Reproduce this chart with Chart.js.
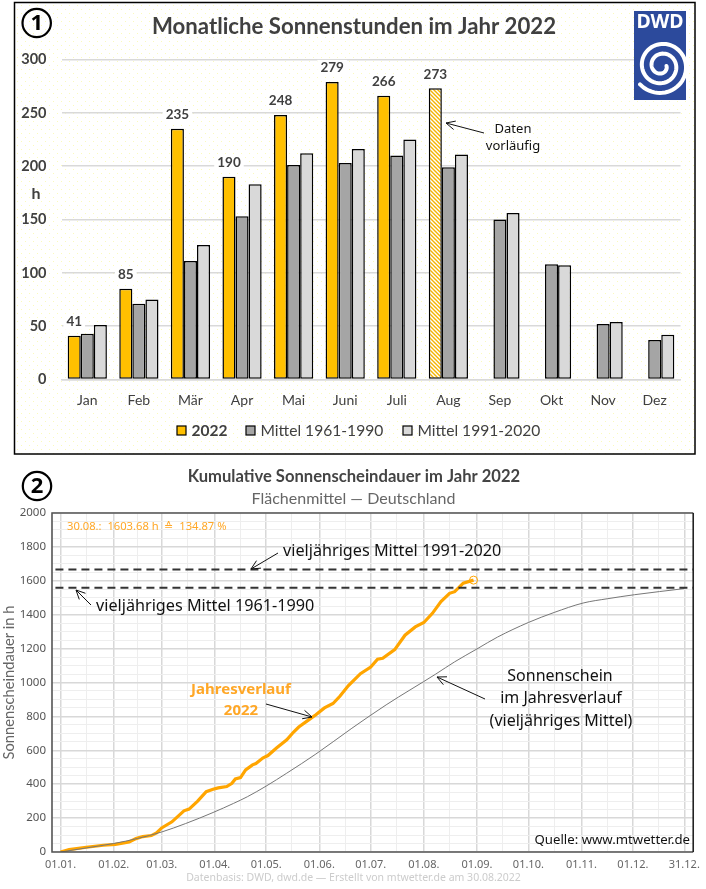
<!DOCTYPE html>
<html>
<head>
<meta charset="utf-8">
<style>
  html, body { margin: 0; padding: 0; background: #fff; }
  .box { position: absolute; left: 0; width: 706px; }
  #box1 { top: 0; height: 458px; }
  #box2 { top: 458px; height: 431px; }
</style>
<script src="https://cdn.jsdelivr.net/npm/chart.js@4"></script>
</head>
<body>
<div class="box" id="box1"><canvas id="monatlich"></canvas></div>
<div class="box" id="box2"><canvas id="kumulativ"></canvas></div>
<script>
// Monatliche Sonnenstunden
const months = ["Jan", "Feb", "Mär", "Apr", "Mai", "Juni", "Juli", "Aug", "Sep", "Okt", "Nov", "Dez"];
const hours2022 = [41, 85, 235, 190, 248, 279, 266, 273, null, null, null, null];
const labels2022 = [41, 85, 235, 190, 248, 279, 266, 273];
const mean6190 = [43, 71, 111, 153, 201, 203, 210, 199, 150, 108, 52, 37];
const mean9120 = [51, 75, 126, 183, 212, 216, 225, 211, 156, 107, 54, 42];
const barTicks = [0, 50, 100, 150, 200, 250, 300];

// Kumulative Sonnenscheindauer (Tag des Jahres, Stunden)
const monthStarts = [0, 31, 59, 90, 120, 151, 181, 212, 243, 273, 304, 334, 364];
const monthLabels = ["01.01.", "01.02.", "01.03.", "01.04.", "01.05.", "01.06.", "01.07.", "01.08.", "01.09.", "01.10.", "01.11.", "01.12.", "31.12."];
const midMonths = [15, 45, 74, 105, 135, 166, 196, 227, 258, 288, 319, 349];
const days2022 = [0, 5, 15, 25, 32, 40, 44, 48, 53, 56, 59, 65, 68, 72, 75, 80, 85, 89, 92, 97, 100, 102, 105, 108, 112, 114, 118, 121, 126, 132, 136, 139, 145, 149, 154, 159, 163, 168, 175, 181, 185, 188, 195, 201, 207, 212, 217, 222, 227, 230, 235, 241];
const sun2022 = [0, 14, 28, 40, 45, 59, 79, 91, 97, 113, 142, 178, 206, 243, 253, 300, 356, 370, 378, 386, 405, 431, 439, 484, 514, 522, 554, 569, 613, 662, 708, 737, 781, 810, 850, 876, 919, 982, 1052, 1091, 1137, 1143, 1194, 1279, 1328, 1354, 1408, 1477, 1526, 1536, 1586, 1604];
const daysMean = [0, 15, 31, 45, 59, 73, 89, 101, 109, 120, 132, 149, 170, 190, 219, 230, 243, 255, 273, 288, 305, 319, 335, 364];
const sunMean = [0, 24, 50, 80, 118, 168, 233, 287, 326, 389, 465, 578, 730, 868, 1050, 1122, 1198, 1268, 1354, 1413, 1469, 1494, 1518, 1554];
const level6190 = 1559;
const level9120 = 1666;

const uiFont = "'Noto Sans', sans-serif";
const calFont = "Lato, sans-serif";

function dotPattern() {
  const c = document.createElement("canvas");
  c.width = 8; c.height = 8;
  const g = c.getContext("2d");
  g.fillStyle = "#ffffff";
  g.fillRect(0, 0, 8, 8);
  g.fillStyle = "#fafabc";
  g.fillRect(1, 1, 1, 1);
  g.fillRect(5, 5, 1, 1);
  return c;
}

function hatchPattern() {
  const c = document.createElement("canvas");
  c.width = 4; c.height = 4;
  const g = c.getContext("2d");
  g.fillStyle = "#ffffff";
  g.fillRect(0, 0, 4, 4);
  g.strokeStyle = "#f5b400";
  g.lineWidth = 1.4;
  g.beginPath();
  g.moveTo(-1, -1); g.lineTo(5, 5);
  g.moveTo(-1, 3); g.lineTo(1, 5);
  g.moveTo(3, -1); g.lineTo(5, 1);
  g.stroke();
  return document.createElement("canvas").getContext("2d").createPattern(c, "repeat");
}

function arrow(ctx, x1, y1, x2, y2) {
  const a = Math.atan2(y2 - y1, x2 - x1);
  ctx.save();
  ctx.strokeStyle = "#111";
  ctx.lineWidth = 1;
  ctx.beginPath();
  ctx.moveTo(x1, y1);
  ctx.lineTo(x2, y2);
  ctx.moveTo(x2 - 10 * Math.cos(a - 0.45), y2 - 10 * Math.sin(a - 0.45));
  ctx.lineTo(x2, y2);
  ctx.lineTo(x2 - 10 * Math.cos(a + 0.45), y2 - 10 * Math.sin(a + 0.45));
  ctx.stroke();
  ctx.restore();
}

function label(ctx, text, x, y, font, color, align) {
  ctx.save();
  ctx.font = font;
  ctx.fillStyle = color;
  ctx.textAlign = align || "center";
  ctx.textBaseline = "middle";
  ctx.fillText(text, x, y);
  ctx.restore();
}

function numberBadge(ctx, n, x, y) {
  ctx.save();
  ctx.strokeStyle = "#000";
  ctx.lineWidth = 2.2;
  ctx.beginPath();
  ctx.arc(x, y, 14.2, 0, Math.PI * 2);
  ctx.stroke();
  ctx.restore();
  label(ctx, n, x, y + 1, "bold 22px " + uiFont, "#000");
}

function drawLogo(ctx) {
  const x = 634, y = 11, w = 52, h = 89;
  ctx.save();
  ctx.fillStyle = "#2c4a9c";
  ctx.fillRect(x, y, w, h);
  ctx.beginPath();
  ctx.rect(x, y, w, h);
  ctx.clip();
  ctx.strokeStyle = "#fff";
  ctx.lineWidth = 4;
  ctx.lineCap = "round";
  ctx.beginPath();
  for (let t = 0; t <= Math.PI * 4.8; t += 0.1) {
    const r = 5 + 1.55 * t;
    const px = 661.5 + r * Math.cos(t);
    const py = 66 + r * Math.sin(t);
    if (t === 0) ctx.moveTo(px, py); else ctx.lineTo(px, py);
  }
  ctx.stroke();
  ctx.restore();
  label(ctx, "DWD", 660, 22, "bold 19.5px " + uiFont, "#fff");
}

const panelOne = {
  id: "panelOne",
  beforeDraw(chart) {
    const { ctx, width, height } = chart;
    ctx.save();
    ctx.fillStyle = "#fff";
    ctx.fillRect(0, 0, width, height);
    ctx.fillStyle = ctx.createPattern(dotPattern(), "repeat");
    ctx.fillRect(15, 3, 680, 451);
    ctx.strokeStyle = "#000";
    ctx.lineWidth = 1.5;
    ctx.strokeRect(14.5, 2.5, 680.5, 451.5);
    ctx.restore();
  },
  afterDatasetsDraw(chart) {
    const { ctx, scales } = chart;
    const meta = chart.getDatasetMeta(0);
    label(ctx, "Monatliche Sonnenstunden im Jahr 2022", 354, 27, "bold 22.2px " + calFont, "#404040");
    // Werte ueber den Balken, weiss hinterlegt wie im Original
    labels2022.forEach((v, i) => {
      const bar = meta.data[i];
      const ly = scales.y.getPixelForValue(hours2022[i]) - 14;
      ctx.save();
      ctx.font = "bold 13.5px " + calFont;
      const w = ctx.measureText(String(v)).width + 6;
      ctx.fillStyle = "#fff";
      ctx.fillRect(bar.x - w / 2, ly - 8, w, 16);
      ctx.restore();
      label(ctx, String(v), bar.x, ly, "bold 13.5px " + calFont, "#404040");
    });
    numberBadge(ctx, "1", 36.7, 23);
    drawLogo(ctx);
    label(ctx, "h", 36, 194, "bold 16px " + calFont, "#404040");
    arrow(ctx, 484, 133, 446, 123);
    label(ctx, "Daten", 513, 129, "13px " + uiFont, "#111");
    label(ctx, "vorläufig", 513, 146, "13px " + uiFont, "#111");
    // Legende
    const legend = [
      { x: 177, color: "#ffc000", text: "2022", font: "bold 15.5px " + calFont },
      { x: 246, color: "#a5a5a5", text: "Mittel 1961-1990", font: "15.6px " + calFont },
      { x: 403, color: "#d9d9d9", text: "Mittel 1991-2020", font: "15.6px " + calFont },
    ];
    legend.forEach((e) => {
      ctx.save();
      ctx.fillStyle = e.color;
      ctx.strokeStyle = "#000";
      ctx.lineWidth = 1.2;
      ctx.fillRect(e.x, 426, 9, 9);
      ctx.strokeRect(e.x, 426, 9, 9);
      ctx.restore();
      label(ctx, e.text, e.x + 14.5, 431, e.font, "#404040", "left");
    });
  },
};

const barBorder = { borderColor: "#000", borderWidth: 1.5, borderSkipped: false, barPercentage: 1, categoryPercentage: 0.76 };

new Chart(document.getElementById("monatlich").getContext("2d"), {
  type: "bar",
  data: {
    labels: months,
    datasets: [
      { label: "2022", data: hours2022, backgroundColor: months.map((m) => (m === "Aug" ? hatchPattern() : "#ffc000")), ...barBorder },
      { label: "Mittel 1961-1990", data: mean6190, backgroundColor: "#a5a5a5", ...barBorder },
      { label: "Mittel 1991-2020", data: mean9120, backgroundColor: "#d9d9d9", ...barBorder },
    ],
  },
  options: {
    responsive: true,
    maintainAspectRatio: false,
    animation: false,
    layout: { padding: { left: 0, right: 25.5, top: 59.5, bottom: 38.5 } },
    plugins: {
      legend: { display: false },
      tooltip: { enabled: false },
    },
    scales: {
      x: {
        grid: { display: false, drawTicks: false },
        border: { display: true, color: "#d9d9d9", width: 1.5 },
        afterFit(s) { s.height = 40; },
        ticks: { color: "#404040", padding: 13, font: { family: "Lato", size: 14 } },
      },
      y: {
        min: 0,
        max: 300,
        afterFit(s) { s.width = 61.5; },
        afterBuildTicks(s) { s.ticks = barTicks.map((v) => ({ value: v })); },
        grid: { color: "#d9d9d9", lineWidth: 1.5, drawTicks: false },
        border: { display: false },
        ticks: { color: "#404040", padding: 15, font: { family: "Lato", size: 14.5, weight: "bold" } },
      },
    },
  },
  plugins: [panelOne],
});

const panelTwo = {
  id: "panelTwo",
  beforeDraw(chart) {
    chart.ctx.save();
    chart.ctx.fillStyle = "#fff";
    chart.ctx.fillRect(0, 0, chart.width, chart.height);
    chart.ctx.restore();
  },
  afterDatasetsDraw(chart) {
    const { ctx, chartArea: a } = chart;
    const top = 458;
    ctx.save();
    ctx.strokeStyle = "#555";
    ctx.lineWidth = 1.6;
    ctx.beginPath();
    ctx.moveTo(a.right, a.top);
    ctx.lineTo(a.left, a.top);
    ctx.lineTo(a.left, a.bottom);
    ctx.lineTo(a.right, a.bottom);
    ctx.stroke();
    ctx.strokeStyle = "#222";
    ctx.beginPath();
    ctx.moveTo(a.right, a.top);
    ctx.lineTo(a.right, a.bottom);
    ctx.stroke();
    ctx.restore();
    numberBadge(ctx, "2", 37, 486 - top);
    label(ctx, "Kumulative Sonnenscheindauer im Jahr 2022", 354, 477 - top, "bold 16.6px " + calFont, "#444");
    label(ctx, "Flächenmittel — Deutschland", 353.5, 499 - top, "16px " + calFont, "#666");
    label(ctx, "30.08.:  1603.68 h  ≙  134.87 %", 67, 527 - top, "11.2px " + uiFont, "#ffa726", "left");
    label(ctx, "vieljähriges Mittel 1991-2020", 283, 551 - top, "16.2px " + uiFont, "#111", "left");
    label(ctx, "vieljähriges Mittel 1961-1990", 96, 606 - top, "16.2px " + uiFont, "#111", "left");
    label(ctx, "Sonnenschein", 560, 676 - top, "16px " + uiFont, "#111");
    label(ctx, "im Jahresverlauf", 561, 698 - top, "16px " + uiFont, "#111");
    label(ctx, "(vieljähriges Mittel)", 561, 721 - top, "16px " + uiFont, "#111");
    label(ctx, "Jahresverlauf", 241, 690 - top, "bold 15px " + uiFont, "#ffa726");
    label(ctx, "2022", 241, 711 - top, "bold 15px " + uiFont, "#ffa726");
    label(ctx, "Quelle: www.mtwetter.de", 690, 840 - top, "13.2px " + uiFont, "#111", "right");
    label(ctx, "Datenbasis: DWD, dwd.de — Erstellt von mtwetter.de am 30.08.2022", 353.5, 878 - top, "10.5px " + uiFont, "#cccccc");
    arrow(ctx, 278, 553 - top, 251, 569 - top);
    arrow(ctx, 91, 605 - top, 76, 590 - top);
    arrow(ctx, 485, 699 - top, 437, 677 - top);
    arrow(ctx, 266, 704 - top, 312, 717 - top);
  },
};

const xGridTicks = monthStarts.concat(midMonths).sort((a, b) => a - b);

new Chart(document.getElementById("kumulativ").getContext("2d"), {
  type: "line",
  data: {
    datasets: [
      {
        label: "Mittel 1991-2020",
        data: [{ x: -3, y: level9120 }, { x: 369.2, y: level9120 }],
        borderColor: "#333",
        borderWidth: 2,
        borderDash: [8, 5],
        pointRadius: 0,
      },
      {
        label: "Mittel 1961-1990",
        data: [{ x: -3, y: level6190 }, { x: 369.2, y: level6190 }],
        borderColor: "#333",
        borderWidth: 2,
        borderDash: [8, 5],
        pointRadius: 0,
      },
      {
        label: "Vieljähriges Mittel",
        data: daysMean.map((d, i) => ({ x: d, y: sunMean[i] })),
        borderColor: "#777",
        borderWidth: 1,
        pointRadius: 0,
        cubicInterpolationMode: "monotone",
      },
      {
        label: "Jahresverlauf 2022",
        data: days2022.map((d, i) => ({ x: d, y: sun2022[i] })),
        borderColor: "#ffa500",
        borderWidth: 3.2,
        backgroundColor: "rgba(255,255,255,0)",
        pointBorderColor: "#ffa500",
        pointBorderWidth: 1,
        pointRadius: (c) => (c.dataIndex === days2022.length - 1 ? 4 : 0),
      },
    ],
  },
  options: {
    responsive: true,
    maintainAspectRatio: false,
    animation: false,
    layout: { padding: { left: 0, right: 12, top: 55, bottom: 0 } },
    plugins: {
      legend: { display: false },
      tooltip: { enabled: false },
    },
    scales: {
      x: {
        type: "linear",
        min: -5,
        max: 369.2,
        afterFit(s) { s.height = 37; },
        afterBuildTicks(s) { s.ticks = xGridTicks.map((v) => ({ value: v })); },
        border: { display: false },
        grid: {
          drawTicks: false,
          color: (c) => (monthStarts.includes(c.tick.value) ? "#d8d8d8" : "#eeeeee"),
          lineWidth: (c) => (monthStarts.includes(c.tick.value) ? 1.5 : 1),
        },
        ticks: {
          color: "#666",
          padding: 6,
          autoSkip: false,
          maxRotation: 0,
          font: { family: "Noto Sans", size: 11 },
          callback: (v) => {
            const i = monthStarts.indexOf(v);
            return i >= 0 ? monthLabels[i] : "";
          },
        },
      },
      y: {
        min: 0,
        max: 2000,
        afterFit(s) { s.width = 52; },
        afterBuildTicks(s) {
          const t = [];
          for (let v = 0; v <= 2000; v += 50) t.push({ value: v });
          s.ticks = t;
        },
        title: {
          display: true,
          text: "Sonnenscheindauer in h",
          color: "#666",
          font: { family: "Lato", size: 14.7 },
          padding: { top: 0, bottom: 0 },
        },
        border: { display: false },
        grid: {
          drawTicks: false,
          color: (c) => (c.tick.value % 200 === 0 ? "#d8d8d8" : "#eeeeee"),
          lineWidth: (c) => (c.tick.value % 200 === 0 ? 1.5 : 1),
        },
        ticks: {
          color: "#555",
          padding: 6,
          autoSkip: false,
          font: { family: "Noto Sans", size: 11.5 },
          callback: (v) => (v % 200 === 0 ? v : ""),
        },
      },
    },
  },
  plugins: [panelTwo],
});
</script>
</body>
</html>
